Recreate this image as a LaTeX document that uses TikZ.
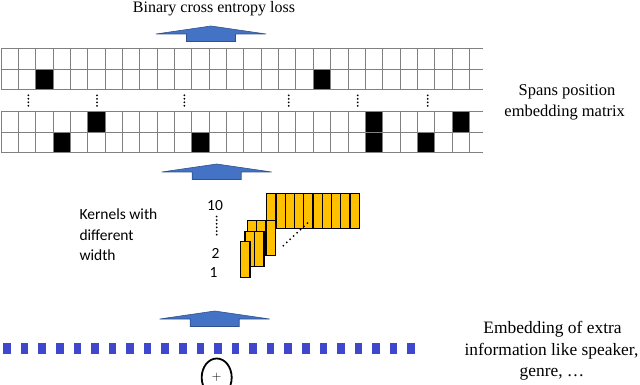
\documentclass[tikz,border=0pt]{standalone}
\usepackage{fontspec}
\setmainfont{Liberation Serif}
\newfontfamily\timesf{Liberation Serif}
\newfontfamily\calib{Carlito}
\usetikzlibrary{shapes.geometric}
\definecolor{arrowblue}{HTML}{4472C4}
\definecolor{arrowedge}{HTML}{2F528F}
\definecolor{sqblue}{HTML}{3F48CC}
\definecolor{kernelfill}{HTML}{FFC000}
\definecolor{gridgray}{HTML}{808080}
\tikzset{
  gridline/.style={draw=gridgray, line width=0.8pt},
  blackcell/.style={fill=black},
  upblock/.style={fill=arrowblue, draw=arrowedge, line width=0.6pt, line join=miter},
  kcell/.style={fill=kernelfill, draw=black, line width=1.1pt},
  sqbox/.style={fill=sqblue},
  serifsix/.style={font=\timesf\fontsize{16}{20}\selectfont, inner sep=0pt},
  serifmid/.style={font=\timesf\fontsize{16.5}{20}\selectfont, inner sep=0pt},
  serifbig/.style={font=\timesf\fontsize{17.4}{21}\selectfont, inner sep=0pt},
  kfont/.style={font=\calib\fontsize{15.5}{20.7}\selectfont, inner sep=0pt},
  dotline/.style={line width=2pt, line cap=round},
  blockup/.pic={\path[upblock] (0,0) -- (55,8) -- (24.5,8) -- (24.5,15.5) -- (-24.5,15.5) -- (-24.5,8) -- (-55,8) -- cycle;}
}
\begin{document}
\begin{tikzpicture}[x=1pt,y=-1pt]
\useasboundingbox (0,0) rectangle (640,385);

% title and top arrow
\node[serifsix, anchor=base] (loss) at (214,12.5) {Binary cross entropy loss};
\pic at (211,26) {blockup};

% matrix black cells
\def\cw{17.345}
\foreach \c/\r in {2/48.7, 18/48.7} \fill[blackcell] ({1+\c*\cw},{\r+20.3}) rectangle ++(\cw,20.3);
\foreach \c in {5,26} \fill[blackcell] ({1+\c*\cw},111) rectangle ++(\cw,21.3);
\foreach \c in {3,11,24} \fill[blackcell] ({1+\c*\cw},132.3) rectangle ++(\cw,20.4);
\fill[blackcell] ({1+21*\cw},111) rectangle ++(\cw,41.7);
% grid lines
\foreach \r in {48.7,69,89.3,111,132.3,152.7} \draw[gridline] (1,\r) -- (483,\r);
\foreach \i in {0,...,27} {
  \draw[gridline] ({1+\i*\cw},48.7) -- ({1+\i*\cw},89.3);
  \draw[gridline] ({1+\i*\cw},111) -- ({1+\i*\cw},152.7);
}
% vertical ellipses in gap
\foreach \x in {28.3,97,184.3,288.7,357.7,427.7}
  \draw[dotline, dash pattern=on 0pt off 3.5pt] (\x,95.3) -- (\x,105.9);

\node[serifmid, anchor=base] (spansa) at (567,96) {Spans position};
\node[serifmid, anchor=base] (spansb) at (564.7,116.2) {embedding matrix};

% middle arrow
\pic at (216.7,164) {blockup};

% kernels
\node[kfont, anchor=base west] (kta) at (79.3,219.3) {Kernels with};
\node[kfont, anchor=base west] (ktb) at (79.3,240.3) {different};
\node[kfont, anchor=base west] (ktc) at (79.3,260.7) {width};
\node[kfont, anchor=base] (kten) at (215,210.7) {10};
\node[kfont, anchor=base] (ktwo) at (215.5,258.3) {2};
\node[kfont, anchor=base] (kone) at (213.5,277.7) {1};
\draw[dotline, dash pattern=on 0pt off 3.64pt] (216.7,216.5) -- (216.7,234.8);

\foreach \i in {0,...,9} \draw[kcell] ({266.7+\i*9.26},193.3) rectangle ++(9.26,35);
\foreach \i in {0,1,2} \draw[kcell] ({247.3+\i*9.33},220.7) rectangle ++(9.33,34.6);
\foreach \i in {0,1} \draw[kcell] ({245+\i*9.5},231.7) rectangle ++(9.5,34.5);
\draw[kcell] (240.7,241.7) rectangle ++(9.3,35.6);
\coordinate (dga) at (283.3,245.7);
\coordinate (dgb) at (307.6,223);
\draw[dotline, dash pattern=on 0pt off 4.72pt] (dga) -- (dgb);

% bottom arrow
\pic at (214.7,311) {blockup};

% embedding squares
\foreach \i in {0,...,23} \fill[sqbox] ({3.3+\i*17.57},342.7) rectangle ++(7.6,11.3);

% sum
\node[draw, ellipse, line width=1.8pt, minimum width=30pt, minimum height=38pt, inner sep=0pt, font=\sffamily\fontsize{13}{13}\selectfont] (sum) at (216.7,377.5) {+};

% bottom right text
\node[serifbig, anchor=base] (exta) at (552.5,333.3) {Embedding of extra};
\node[serifbig, anchor=base] (extb) at (551.5,355) {information like speaker,};
\node[serifbig, anchor=base] (extc) at (552,376.5) {genre, \ldots};
\end{tikzpicture}
\end{document}
